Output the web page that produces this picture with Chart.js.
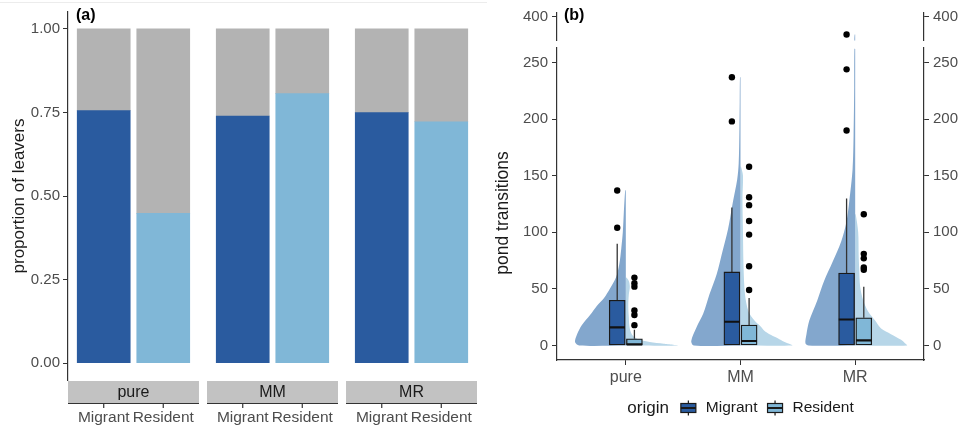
<!DOCTYPE html>
<html>
<head>
<meta charset="utf-8">
<script src="https://cdn.jsdelivr.net/npm/chart.js@4.4.1/dist/chart.umd.min.js"></script>
<style>
  html, body { margin: 0; padding: 0; background: #fff; }
  #wrap { position: relative; width: 965px; height: 428px; overflow: hidden; }
  #leftCanvas { position: absolute; left: 0; top: 0; }
  #rightCanvas { position: absolute; left: 490px; top: 0; }
</style>
</head>
<body>
<div id="wrap">
  <canvas id="leftCanvas" width="490" height="428"></canvas>
  <canvas id="rightCanvas" width="475" height="428"></canvas>
</div>
<script>
// ---- panel (a): proportion of leavers ----
const facets = ['pure', 'MM', 'MR'];
const origins = ['Migrant', 'Resident'];
const leaversMigrant = [0.755, 0.739, 0.749];
const leaversResident = [0.448, 0.806, 0.722];
const propTicks = [0, 0.25, 0.5, 0.75, 1];

// ---- panel (b): pond transitions ----
const groups = ['pure', 'MM', 'MR'];
const transTicksLow = [0, 50, 100, 150, 200, 250];
const transTicksTop = [400];

const migQ1 = [0, 0, 0];
const migMedian = [16, 21, 23];
const migQ3 = [40, 65, 64];
const migWhisker = [90, 122, 130];
const resQ1 = [0, 0, 0];
const resMedian = [1, 4, 4.5];
const resQ3 = [6, 18, 24.5];
const resWhisker = [14, 42, 52];

const migOutliers = [[104, 137], [198, 237], [190, 244, 379]];
const resOutliers = [[18, 27, 31, 52, 55, 60], [49, 70, 98, 110, 124, 131, 158], [67, 69, 77, 81, 116]];

// half-violin outlines (relative density at each level)
const migLevels = [
  [0, 3, 10, 18, 27, 35, 42, 50, 60, 72, 86, 100, 118, 137],
  [0, 4, 16, 28, 45, 63, 80, 103, 127, 147, 161, 190, 215, 237],
  [0, 2, 10, 22, 40, 57, 74, 92, 109, 127, 156, 185, 228, 262, 372, 379]
];
const migDensity = [
  [0.90, 0.98, 0.94, 0.85, 0.69, 0.56, 0.42, 0.31, 0.19, 0.125, 0.087, 0.058, 0.038, 0.012],
  [0.90, 0.95, 0.85, 0.72, 0.60, 0.46, 0.365, 0.24, 0.146, 0.063, 0.035, 0.021, 0.015, 0.01],
  [0.90, 0.96, 0.94, 0.885, 0.73, 0.60, 0.435, 0.27, 0.17, 0.115, 0.05, 0.031, 0.019, 0.015, 0.015, 0.01]
];
const resLevels = [
  [0, 1.5, 3, 5, 8, 12, 18, 25, 35, 45, 52, 57, 60],
  [0, 1.5, 4, 7, 10, 13, 17, 22, 30, 45, 70, 100, 130, 150, 158],
  [0, 2, 5, 10, 15, 22, 30, 40, 52, 68, 80, 100, 116]
];
const resDensity = [
  [1.0, 0.73, 0.46, 0.27, 0.15, 0.096, 0.067, 0.058, 0.048, 0.058, 0.077, 0.058, 0.01],
  [1.0, 0.94, 0.81, 0.69, 0.56, 0.46, 0.385, 0.27, 0.154, 0.087, 0.058, 0.048, 0.038, 0.048, 0.01],
  [1.0, 0.96, 0.885, 0.69, 0.5, 0.385, 0.25, 0.154, 0.096, 0.077, 0.067, 0.058, 0.01]
];

// ---- styles ----
const FONT = "'Liberation Sans', Arial, sans-serif";
Chart.defaults.font.family = FONT;
const DARK = '#2a5b9f';
const LIGHT = '#80b7d7';
const GREY = '#b3b3b3';
const STRIP = '#c2c2c2';
const VIO_DARK = '#83a7cd';
const VIO_LIGHT = '#b7d6e8';
const AXIS = '#333333';
const TICK = '#4d4d4d';

// facet layout for panel (a), in x-axis units (one bar slot = 1)
const FACET_SPAN = 2.2, FACET_GAP = 0.135, STEP = FACET_SPAN + FACET_GAP;
const barX = (f, o) => f * STEP + 0.6 + o;

const stripPlugin = {
  id: 'strips',
  afterDraw(chart) {
    const {ctx, chartArea, scales: {x}} = chart;
    ctx.save();
    ctx.strokeStyle = '#ececec';
    ctx.lineWidth = 1;
    ctx.beginPath(); ctx.moveTo(0, 2.5); ctx.lineTo(487, 2.5); ctx.stroke();
    facets.forEach((name, f) => {
      const x0 = x.getPixelForValue(f * STEP);
      const x1 = x.getPixelForValue(f * STEP + FACET_SPAN);
      const top = chartArea.bottom + 1, h = 22;
      ctx.fillStyle = STRIP;
      ctx.fillRect(x0, top, x1 - x0, h);
      ctx.fillStyle = '#1a1a1a';
      ctx.font = '16px ' + FONT;
      ctx.textAlign = 'center';
      ctx.textBaseline = 'middle';
      ctx.fillText(name, (x0 + x1) / 2, top + h / 2 + 1);
      ctx.strokeStyle = AXIS;
      ctx.lineWidth = 1.2;
      ctx.beginPath();
      ctx.moveTo(x0, top + h + 0.5); ctx.lineTo(x1, top + h + 0.5);
      origins.forEach((o, j) => {
        const px = x.getPixelForValue(barX(f, j));
        ctx.moveTo(px, top + h); ctx.lineTo(px, top + h + 5);
      });
      ctx.stroke();
    });
    ctx.fillStyle = '#000';
    ctx.font = 'bold 16px ' + FONT;
    ctx.textAlign = 'left';
    ctx.textBaseline = 'middle';
    ctx.fillText('(a)', chartArea.left + 8, 16);
    ctx.restore();
  }
};

new Chart(document.getElementById('leftCanvas'), {
  type: 'bar',
  data: {
    datasets: [{
      label: 'leavers',
      data: facets.flatMap((f, i) => [
        {x: barX(i, 0), y: leaversMigrant[i]},
        {x: barX(i, 1), y: leaversResident[i]}
      ]),
      backgroundColor: facets.flatMap(() => [DARK, LIGHT]),
      borderWidth: 0,
      barThickness: 53
    }, {
      label: 'stayers',
      data: facets.flatMap((f, i) => [
        {x: barX(i, 0), y: 1 - leaversMigrant[i]},
        {x: barX(i, 1), y: 1 - leaversResident[i]}
      ]),
      backgroundColor: GREY,
      borderWidth: 0,
      barThickness: 53
    }]
  },
  options: {
    responsive: false,
    animation: false,
    events: [],
    layout: {padding: {top: 11.5, right: 13, left: 0, bottom: 0}},
    plugins: {legend: {display: false}, tooltip: {enabled: false}},
    scales: {
      x: {
        type: 'linear', stacked: true, offset: false,
        min: 0, max: 2 * STEP + FACET_SPAN,
        grid: {display: false, offset: false, drawTicks: true, tickLength: 28},
        border: {display: false},
        afterBuildTicks: s => { s.ticks = facets.flatMap((f, i) => [{value: barX(i, 0)}, {value: barX(i, 1)}]); },
        ticks: {
          autoSkip: false, maxRotation: 0, padding: 0,
          color: TICK, font: {size: 15.5},
          callback: (v, i) => origins[i % 2]
        },
        afterFit: s => { s.height = 48; }
      },
      y: {
        type: 'linear', stacked: true,
        min: -0.05, max: 1.05,
        afterBuildTicks: s => { s.ticks = propTicks.map(v => ({value: v})); },
        grid: {drawOnChartArea: false, drawTicks: true, tickLength: 5, color: AXIS},
        border: {display: true, color: AXIS, width: 1.2},
        ticks: {color: TICK, font: {size: 15}, padding: 3, callback: v => v.toFixed(2)},
        title: {display: true, text: 'proportion of leavers', color: '#1a1a1a', font: {size: 17}, padding: {top: 9, bottom: 0}},
        afterFit: s => { s.width = 68; }
      }
    }
  },
  plugins: [stripPlugin]
});

// ---- panel (b) ----
const LOW_MIN = -12.8, LOW_MAX = 263.3;
const TOP_MIN = 372, TOP_MAX = 404;
const DODGE = 0.075, BOX_HALF = 0.068, VIOLIN_HALF = 0.452;

function halfViolin(center, side, levels, dens, lo, hi) {
  const idx = levels.map((v, i) => i).filter(i => levels[i] >= lo && levels[i] <= hi);
  if (idx.length < 2) return null;
  const pts = [{x: center, y: levels[idx[idx.length - 1]]}];
  for (let k = idx.length - 1; k >= 0; k--) {
    pts.push({x: center + side * VIOLIN_HALF * dens[idx[k]], y: levels[idx[k]]});
  }
  pts.push({x: center, y: levels[idx[0]]});
  return pts;
}

const datasets = [];
const segments = [['yLow', LOW_MIN, LOW_MAX], ['yTop', TOP_MIN, TOP_MAX]];

// violins
groups.forEach((g, i) => {
  segments.forEach(([axis, lo, hi]) => {
    [[-1, migLevels[i], migDensity[i], VIO_DARK], [1, resLevels[i], resDensity[i], VIO_LIGHT]].forEach(([side, lv, dn, col]) => {
      const pts = halfViolin(i + 1, side, lv, dn, lo, hi);
      if (!pts) return;
      datasets.push({
        type: 'line', data: pts, yAxisID: axis, order: 5,
        fill: 'shape', backgroundColor: col,
        borderColor: 'rgba(0,0,0,0)', borderWidth: 0,
        pointRadius: 0, tension: 0.3
      });
    });
  });
});

// boxes
[[migQ1, migQ3, -1, DARK, 'Migrant'], [resQ1, resQ3, 1, LIGHT, 'Resident']].forEach(([q1, q3, side, col, lab]) => {
  datasets.push({
    type: 'bar', label: lab, yAxisID: 'yLow', order: 2,
    data: groups.map((g, i) => ({x: i + 1 + side * DODGE, y: [q1[i], q3[i]]})),
    backgroundColor: col, borderColor: '#1a1a1a', borderWidth: 1.3,
    borderSkipped: false, barThickness: 16, grouped: false
  });
});

// whiskers and medians
[[migQ3, migWhisker, migMedian, -1], [resQ3, resWhisker, resMedian, 1]].forEach(([q3, wh, med, side]) => {
  datasets.push({
    type: 'line', yAxisID: 'yLow', order: 3,
    data: groups.flatMap((g, i) => [
      {x: i + 1 + side * DODGE, y: q3[i]}, {x: i + 1 + side * DODGE, y: wh[i]}, {x: i + 1, y: null}
    ]),
    borderColor: AXIS, borderWidth: 1.3, pointRadius: 0, spanGaps: false
  });
  datasets.push({
    type: 'line', yAxisID: 'yLow', order: 1,
    data: groups.flatMap((g, i) => [
      {x: i + 1 + side * DODGE - BOX_HALF, y: med[i]}, {x: i + 1 + side * DODGE + BOX_HALF, y: med[i]}, {x: i + 1, y: null}
    ]),
    borderColor: '#111', borderWidth: 2.2, pointRadius: 0, spanGaps: false
  });
});

// outliers
[[migOutliers, -1], [resOutliers, 1]].forEach(([outs, side]) => {
  segments.forEach(([axis, lo, hi]) => {
    const pts = groups.flatMap((g, i) => outs[i].filter(v => v >= lo && v <= hi).map(v => ({x: i + 1 + side * DODGE, y: v})));
    if (!pts.length) return;
    datasets.push({
      type: 'line', yAxisID: axis, order: 0, data: pts,
      showLine: false, pointRadius: 3.2, pointBackgroundColor: '#000', pointBorderWidth: 0
    });
  });
});

function yScale(extra) {
  return Object.assign({
    type: 'linear',
    grid: {drawOnChartArea: false, drawTicks: true, tickLength: 5, color: AXIS},
    border: {display: true, color: AXIS, width: 1.2},
    ticks: {color: TICK, font: {size: 15}, padding: 4}
  }, extra);
}
const lowTicks = s => { s.ticks = transTicksLow.map(v => ({value: v})); };
const topTicks = s => { s.ticks = transTicksTop.map(v => ({value: v})); };

const panelBPlugin = {
  id: 'panelB',
  afterDraw(chart) {
    const {ctx, chartArea} = chart;
    ctx.save();
    ctx.fillStyle = '#000';
    ctx.font = 'bold 16px ' + FONT;
    ctx.textAlign = 'left';
    ctx.textBaseline = 'middle';
    ctx.fillText('(b)', chartArea.left + 7, 16);

    ctx.save();
    ctx.translate(13, 213);
    ctx.rotate(-Math.PI / 2);
    ctx.textAlign = 'center';
    ctx.fillStyle = '#1a1a1a';
    ctx.font = '17.5px ' + FONT;
    ctx.fillText('pond transitions', 0, 0);
    ctx.restore();

    // legend
    const y = 408;
    ctx.font = '17px ' + FONT;
    const titleW = ctx.measureText('origin').width;
    ctx.font = '15.5px ' + FONT;
    const wM = ctx.measureText(origins[0]).width;
    const wR = ctx.measureText(origins[1]).width;
    const total = titleW + 12 + 15 + 10 + wM + 10 + 15 + 10 + wR;
    let x = (chartArea.left + chartArea.right) / 2 - total / 2;
    ctx.fillStyle = '#1a1a1a';
    ctx.font = '17px ' + FONT;
    ctx.fillText('origin', x, y);
    x += titleW + 12;
    [[DARK, origins[0], wM], [LIGHT, origins[1], wR]].forEach(([col, lab, w]) => {
      ctx.fillStyle = col;
      ctx.strokeStyle = '#1a1a1a';
      ctx.lineWidth = 1.2;
      ctx.fillRect(x, y - 4.5, 15, 9);
      ctx.strokeRect(x, y - 4.5, 15, 9);
      ctx.beginPath();
      ctx.moveTo(x + 7.5, y - 7.5); ctx.lineTo(x + 7.5, y - 4.5);
      ctx.moveTo(x + 7.5, y + 4.5); ctx.lineTo(x + 7.5, y + 7.5);
      ctx.stroke();
      ctx.lineWidth = 2;
      ctx.beginPath(); ctx.moveTo(x, y); ctx.lineTo(x + 15, y); ctx.stroke();
      x += 15 + 10;
      ctx.fillStyle = '#1a1a1a';
      ctx.font = '15.5px ' + FONT;
      ctx.fillText(lab, x, y);
      x += w + 10;
    });
    ctx.restore();
  }
};

new Chart(document.getElementById('rightCanvas'), {
  type: 'bar',
  data: {datasets},
  options: {
    responsive: false,
    animation: false,
    events: [],
    layout: {padding: 0},
    plugins: {legend: {display: false}, tooltip: {enabled: false}},
    scales: {
      x: {
        type: 'linear', offset: false, min: 0.4, max: 3.6,
        grid: {drawOnChartArea: false, drawTicks: true, tickLength: 5, color: AXIS, offset: false},
        border: {display: true, color: AXIS, width: 1.2},
        afterBuildTicks: s => { s.ticks = groups.map((g, i) => ({value: i + 1})); },
        ticks: {autoSkip: false, maxRotation: 0, color: TICK, font: {size: 16}, padding: 3, callback: (v, i) => groups[i]},
        afterFit: s => { s.height = 68; }
      },
      yLow: yScale({position: 'left', stack: 'b', stackWeight: 317, weight: 1, min: LOW_MIN, max: LOW_MAX,
        afterBuildTicks: lowTicks, afterFit: s => { s.width = 67; }}),
      yGap: {type: 'linear', position: 'left', stack: 'b', stackWeight: 7, weight: 2, display: false, min: 0, max: 1},
      yTop: yScale({position: 'left', stack: 'b', stackWeight: 28, weight: 3, min: TOP_MIN, max: TOP_MAX,
        afterBuildTicks: topTicks}),
      yRTop: yScale({position: 'right', stack: 'r', stackWeight: 28, weight: 1, min: TOP_MIN, max: TOP_MAX,
        afterBuildTicks: topTicks}),
      yRGap: {type: 'linear', position: 'right', stack: 'r', stackWeight: 7, weight: 2, display: false, min: 0, max: 1},
      yRLow: yScale({position: 'right', stack: 'r', stackWeight: 317, weight: 3, min: LOW_MIN, max: LOW_MAX,
        afterBuildTicks: lowTicks, afterFit: s => { s.width = 41; }})
    }
  },
  plugins: [panelBPlugin]
});
</script>
</body>
</html>
